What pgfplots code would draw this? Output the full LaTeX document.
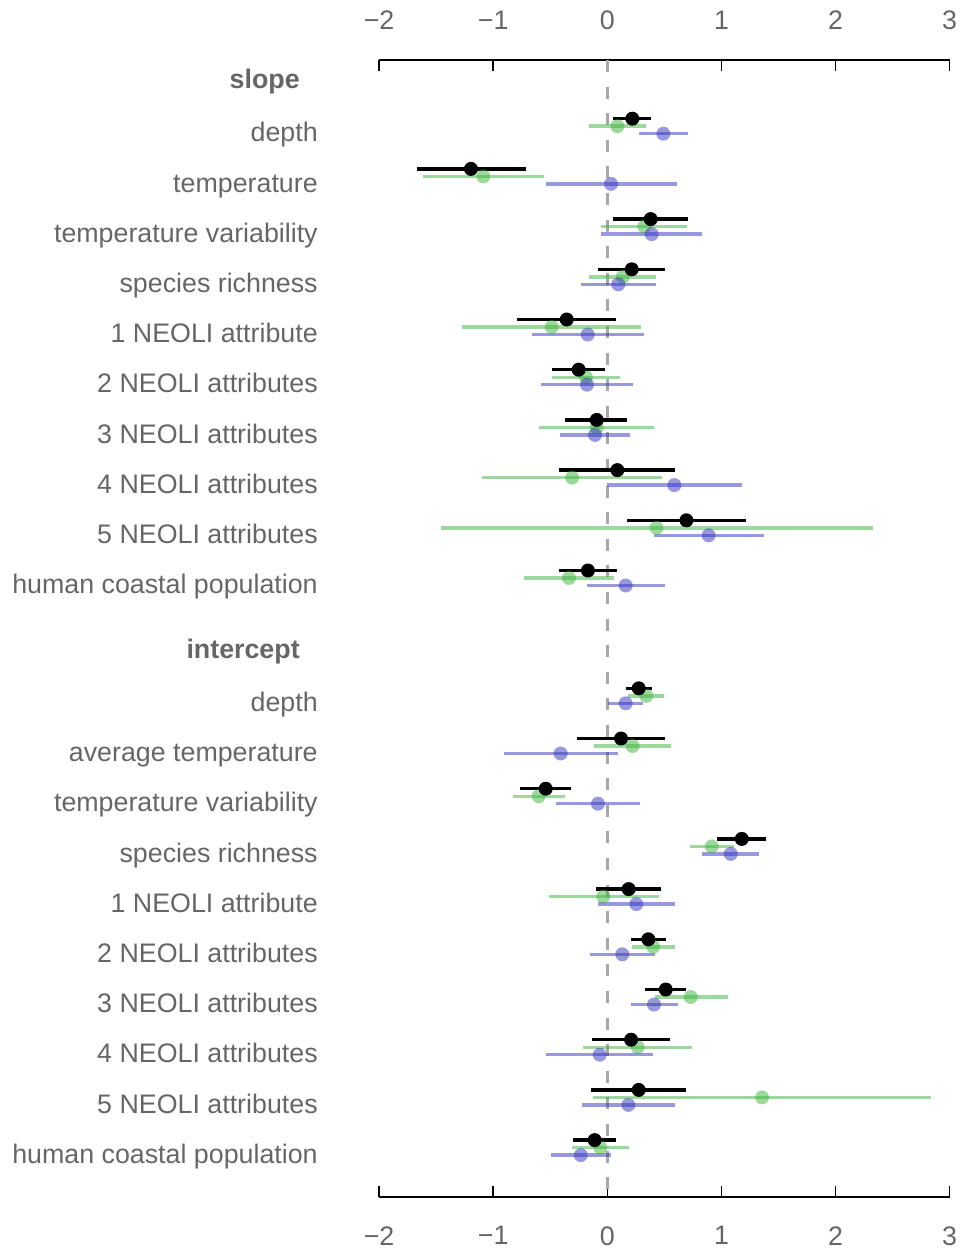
\documentclass[border=0pt]{standalone}
\usepackage{pgfplots}
\usepackage{pgfplotstable}
\pgfplotsset{compat=1.18}
\usepackage{fontspec}
\setmainfont{Liberation Sans}

\definecolor{txtgray}{HTML}{666666}
\definecolor{dashgray}{HTML}{A8A8A8}
\definecolor{grn}{RGB}{60,179,60}
\definecolor{blu}{RGB}{50,50,190}

% y = row position (px from top), m = estimate, lo/hi = interval
\pgfplotstableread{
y m lo hi
118.7 0.219 0.047 0.383
168.9 -1.195 -1.670 -0.713
219.1 0.380 0.047 0.710
269.3 0.214 -0.079 0.506
319.5 -0.356 -0.789 0.076
369.7 -0.251 -0.485 -0.018
419.9 -0.093 -0.371 0.175
470.1 0.088 -0.421 0.593
520.3 0.693 0.175 1.213
570.5 -0.170 -0.423 0.088
688.3 0.275 0.161 0.389
738.5 0.120 -0.266 0.503
788.7 -0.540 -0.768 -0.315
838.9 1.178 0.964 1.388
889.1 0.187 -0.102 0.473
939.3 0.359 0.205 0.517
989.5 0.512 0.328 0.692
1039.7 0.208 -0.137 0.550
1089.9 0.275 -0.140 0.687
1140.1 -0.111 -0.301 0.079
}\blacktab

\pgfplotstableread{
y m lo hi
126.2 0.088 -0.158 0.336
176.4 -1.087 -1.618 -0.558
226.6 0.324 -0.053 0.701
276.8 0.135 -0.158 0.424
327.0 -0.487 -1.271 0.293
377.2 -0.187 -0.485 0.109
427.4 -0.093 -0.601 0.412
477.6 -0.308 -1.095 0.478
527.8 0.432 -1.461 2.331
578.0 -0.336 -0.729 0.061
695.8 0.342 0.181 0.500
746.0 0.222 -0.117 0.561
796.2 -0.601 -0.824 -0.373
846.4 0.915 0.722 1.108
896.6 -0.035 -0.514 0.450
946.8 0.401 0.214 0.596
997.0 0.731 0.415 1.055
1047.2 0.266 -0.213 0.745
1097.4 1.356 -0.123 2.834
1147.6 -0.061 -0.312 0.190
}\greentab

\pgfplotstableread{
y m lo hi
133.7 0.491 0.278 0.710
183.9 0.032 -0.540 0.608
234.1 0.389 -0.053 0.827
284.3 0.096 -0.231 0.424
334.5 -0.172 -0.663 0.322
384.7 -0.178 -0.578 0.222
434.9 -0.108 -0.412 0.202
485.1 0.587 -0.002 1.179
535.3 0.888 0.405 1.372
585.5 0.161 -0.174 0.502
703.3 0.161 0.006 0.313
753.5 -0.409 -0.908 0.096
803.7 -0.082 -0.447 0.287
853.9 1.081 0.833 1.327
904.1 0.254 -0.082 0.596
954.3 0.131 -0.152 0.415
1004.5 0.409 0.205 0.622
1054.7 -0.067 -0.535 0.403
1104.9 0.184 -0.222 0.591
1155.1 -0.233 -0.496 0.035
}\bluetab

\begin{document}
\begin{tikzpicture}
\pgfplotsset{
  common/.style={
    scale only axis,
    width=285.3pt, height=568.5pt,
    xmin=-2, xmax=3, ymin=60, ymax=1197,
    y dir=reverse,
    xtick={-2,-1,0,1,2,3},
    xticklabels={−2,−1,0,1,2,3},
    ticklabel style={font=\fontsize{13.4}{16}\selectfont, text=txtgray},
  },
}
\begin{axis}[
  common,
  clip=false,
  separate axis lines,
  x axis line style={line width=1pt},
  y axis line style={draw=none},
  xtick style={line width=0.75pt, black},
  major tick length=5.5pt,
  tick align=inside,
  xtick pos=both,
  xticklabel pos=lower,
  xticklabel style={inner sep=0pt, yshift=-14.5pt},
  ytick={136.8,187,237.2,287.4,337.6,387.8,438,488.2,538.4,588.6,
         706.4,756.6,806.8,857,907.2,957.4,1007.6,1057.8,1108,1158.2},
  yticklabels={depth, temperature, temperature variability, species richness,
    1 NEOLI attribute, 2 NEOLI attributes, 3 NEOLI attributes,
    4 NEOLI attributes, 5 NEOLI attributes, human coastal population,
    depth, average temperature, temperature variability, species richness,
    1 NEOLI attribute, 2 NEOLI attributes, 3 NEOLI attributes,
    4 NEOLI attributes, 5 NEOLI attributes, human coastal population},
  ytick style={draw=none},
  yticklabel style={anchor=east, inner sep=0pt, xshift=-30.5pt,
    text height=0.72em, text depth=0.21em},
  extra y ticks={83.3,653},
  extra y tick labels={\textbf{slope},\textbf{intercept}},
  extra y tick style={ytick style={draw=none},
    yticklabel style={xshift=-9pt}},
]
\addplot[dashgray, line width=1.5pt, dash pattern=on 6pt off 7.3pt]
  coordinates {(0,60) (0,1197)};

\addplot[grn, only marks, mark=*, mark size=3.5pt,
  mark options={draw opacity=0, fill=grn, fill opacity=0.5},
  error bars/.cd, x dir=both, x explicit, error mark=none,
  error bar style={line width=1.7pt, draw=grn, draw opacity=0.5}]
  table[x=m, y=y, x error plus expr=\thisrow{hi}-\thisrow{m},
        x error minus expr=\thisrow{m}-\thisrow{lo}] {\greentab};

\addplot[blu, only marks, mark=*, mark size=3.5pt,
  mark options={draw opacity=0, fill=blu, fill opacity=0.5},
  error bars/.cd, x dir=both, x explicit, error mark=none,
  error bar style={line width=1.7pt, draw=blu, draw opacity=0.5}]
  table[x=m, y=y, x error plus expr=\thisrow{hi}-\thisrow{m},
        x error minus expr=\thisrow{m}-\thisrow{lo}] {\bluetab};

\addplot[black, only marks, mark=*, mark size=3.5pt,
  mark options={draw opacity=0, fill=black},
  error bars/.cd, x dir=both, x explicit, error mark=none,
  error bar style={line width=1.7pt, draw=black}]
  table[x=m, y=y, x error plus expr=\thisrow{hi}-\thisrow{m},
        x error minus expr=\thisrow{m}-\thisrow{lo}] {\blacktab};
\end{axis}
\begin{axis}[
  common,
  axis line style={draw=none},
  tick style={draw=none},
  xticklabel pos=upper,
  xticklabel style={inner sep=0pt, yshift=15pt},
  ytick=\empty,
]
\end{axis}
\path (current axis.north west) ++(-189.55pt,30pt) coordinate (bbA);
\path (current axis.south east) ++(6.65pt,-27.5pt) coordinate (bbB);
\path (bbA) rectangle (bbB);
\end{tikzpicture}
\end{document}
